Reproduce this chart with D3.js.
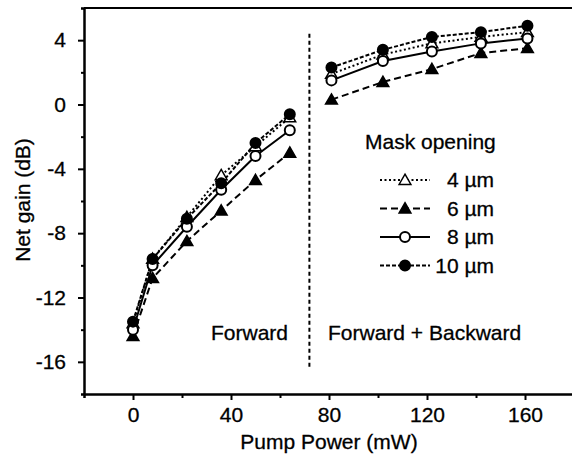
<!DOCTYPE html>
<html>
<head>
<meta charset="utf-8">
<script src="https://cdn.jsdelivr.net/npm/d3@7/dist/d3.min.js"></script>
<style>
body { margin: 0; background: #fff; }
svg text { font-family: "Liberation Sans", Arial, sans-serif; fill: #000; stroke: #000; stroke-width: 0.3px; }
</style>
</head>
<body>
<svg id="mainSvg" width="572" height="461"></svg>
<script>
// pump power (mW) for the two pumping regimes
var powerForward = [0, 8, 22, 36, 50, 64];
var powerBackward = [81, 102, 122, 142, 161];

// net gain (dB)
var gain4F = [-13.6, -9.6, -7.0, -4.4, -2.6, -0.8];
var gain4B = [1.9, 3.1, 3.8, 4.2, 4.5];
var gain6F = [-14.4, -10.8, -8.5, -6.6, -4.7, -3.0];
var gain6B = [0.3, 1.4, 2.2, 3.2, 3.5];
var gain8F = [-14.0, -10.0, -7.6, -5.3, -3.2, -1.6];
var gain8B = [1.5, 2.7, 3.3, 3.8, 4.1];
var gain10F = [-13.5, -9.6, -7.1, -4.9, -2.4, -0.6];
var gain10B = [2.3, 3.4, 4.2, 4.5, 4.9];

var seriesNames = ["4 \u00b5m", "6 \u00b5m", "8 \u00b5m", "10 \u00b5m"];
var xTicks = [0, 40, 80, 120, 160];
var xMinor = [-20, 20, 60, 100, 140, 180];
var yTicks = [-16, -12, -8, -4, 0, 4];
var yMinor = [-18, -14, -10, -6, -2, 2, 6];
var dividerPower = 72;
var dividerGain = [4.4, -16.3];

var series = [
	{name: seriesNames[0], f: gain4F, b: gain4B, dash: "2,2.5", marker: "triangle", fill: "#fff"},
	{name: seriesNames[1], f: gain6F, b: gain6B, dash: "7,4", marker: "triangle", fill: "#000"},
	{name: seriesNames[2], f: gain8F, b: gain8B, dash: null, marker: "circle", fill: "#fff"},
	{name: seriesNames[3], f: gain10F, b: gain10B, dash: "4,2", marker: "circle", fill: "#000"}
];

var svg = d3.select("#mainSvg");
var x = d3.scaleLinear().domain([-20, 180]).range([84, 574]);
var y = d3.scaleLinear().domain([-18, 6]).range([394, 8]);

function styleAxis(g)
{
	g.select(".domain").attr("stroke", "#000").attr("stroke-width", 2);
	g.selectAll(".tick line").attr("stroke", "#000").attr("stroke-width", 2);
	g.selectAll("text").attr("font-size", "21px").attr("font-family", "'Liberation Sans', Arial, sans-serif");
}
function plain(d) { return String(d); }

// minor ticks first, then the labelled axes
svg.append("g").attr("transform", "translate(0,394)")
	.call(d3.axisBottom(x).tickValues(xMinor).tickSize(4).tickFormat(""))
	.call(styleAxis);
svg.append("g").attr("transform", "translate(84,0)")
	.call(d3.axisLeft(y).tickValues(yMinor).tickSize(3).tickFormat(""))
	.call(styleAxis);
svg.append("g").attr("transform", "translate(0,394)")
	.call(d3.axisBottom(x).tickValues(xTicks).tickSize(6).tickPadding(7).tickSizeOuter(0).tickFormat(plain))
	.call(styleAxis);
svg.append("g").attr("transform", "translate(84,0)")
	.call(d3.axisLeft(y).tickValues(yTicks).tickSize(6).tickPadding(12).tickSizeOuter(0).tickFormat(plain))
	.call(styleAxis);

// top frame
svg.append("line").attr("x1", x(-20)).attr("x2", x(180)).attr("y1", y(6)).attr("y2", y(6))
	.attr("stroke", "#000").attr("stroke-width", 2);

// axis titles
svg.append("text").attr("x", 329).attr("y", 449).attr("text-anchor", "middle")
	.attr("font-size", "21px").text("Pump Power (mW)");
svg.append("text").attr("transform", "translate(30,200) rotate(-90)").attr("text-anchor", "middle")
	.attr("font-size", "21px").text("Net gain (dB)");

// divider between regimes
svg.append("line").attr("x1", x(dividerPower)).attr("x2", x(dividerPower))
	.attr("y1", y(dividerGain[0])).attr("y2", y(dividerGain[1]))
	.attr("stroke", "#000").attr("stroke-width", 2).attr("stroke-dasharray", "4,3");
svg.append("text").attr("x", 211).attr("y", 340).attr("font-size", "21px").text("Forward");
svg.append("text").attr("x", 328).attr("y", 340).attr("font-size", "21px").text("Forward + Backward");

var line = d3.line().x(function(d) { return x(d.p); }).y(function(d) { return y(d.g); });
var tri = d3.symbol().type(d3.symbolTriangle).size(60);

function drawMarker(g, s, cx, cy)
{
	if(s.marker == "circle")
		g.append("circle").attr("cx", cx).attr("cy", cy).attr("r", 5)
			.attr("fill", s.fill).attr("stroke", "#000").attr("stroke-width", 2);
	else
		g.append("path").attr("d", tri).attr("transform", "translate(" + cx + "," + (cy + 1) + ")")
			.attr("fill", s.fill).attr("stroke", "#000").attr("stroke-width", 1.5);
}

var lineLayer = svg.append("g");
var markLayer = svg.append("g");
series.forEach(function(s) {
	[[powerForward, s.f], [powerBackward, s.b]].forEach(function(seg) {
		var pts = seg[0].map(function(p, i) { return {p: p, g: seg[1][i]}; });
		lineLayer.append("path").datum(pts).attr("d", line).attr("fill", "none")
			.attr("stroke", "#000").attr("stroke-width", 2)
			.attr("stroke-dasharray", s.dash);
		pts.forEach(function(d) { drawMarker(markLayer, s, x(d.p), y(d.g)); });
	});
});

// legend
svg.append("text").attr("x", 365).attr("y", 149).attr("font-size", "21px").text("Mask opening");
series.forEach(function(s, i) {
	var ly = 180 + i * 28.5;
	var lg = svg.append("g");
	lg.append("line").attr("x1", 380).attr("x2", 430).attr("y1", ly).attr("y2", ly)
		.attr("stroke", "#000").attr("stroke-width", 2).attr("stroke-dasharray", s.dash);
	drawMarker(lg, s, 405, ly);
	lg.append("text").attr("x", 494).attr("y", ly + 7).attr("text-anchor", "end")
		.attr("font-size", "21px").text(s.name);
});
</script>
</body>
</html>
